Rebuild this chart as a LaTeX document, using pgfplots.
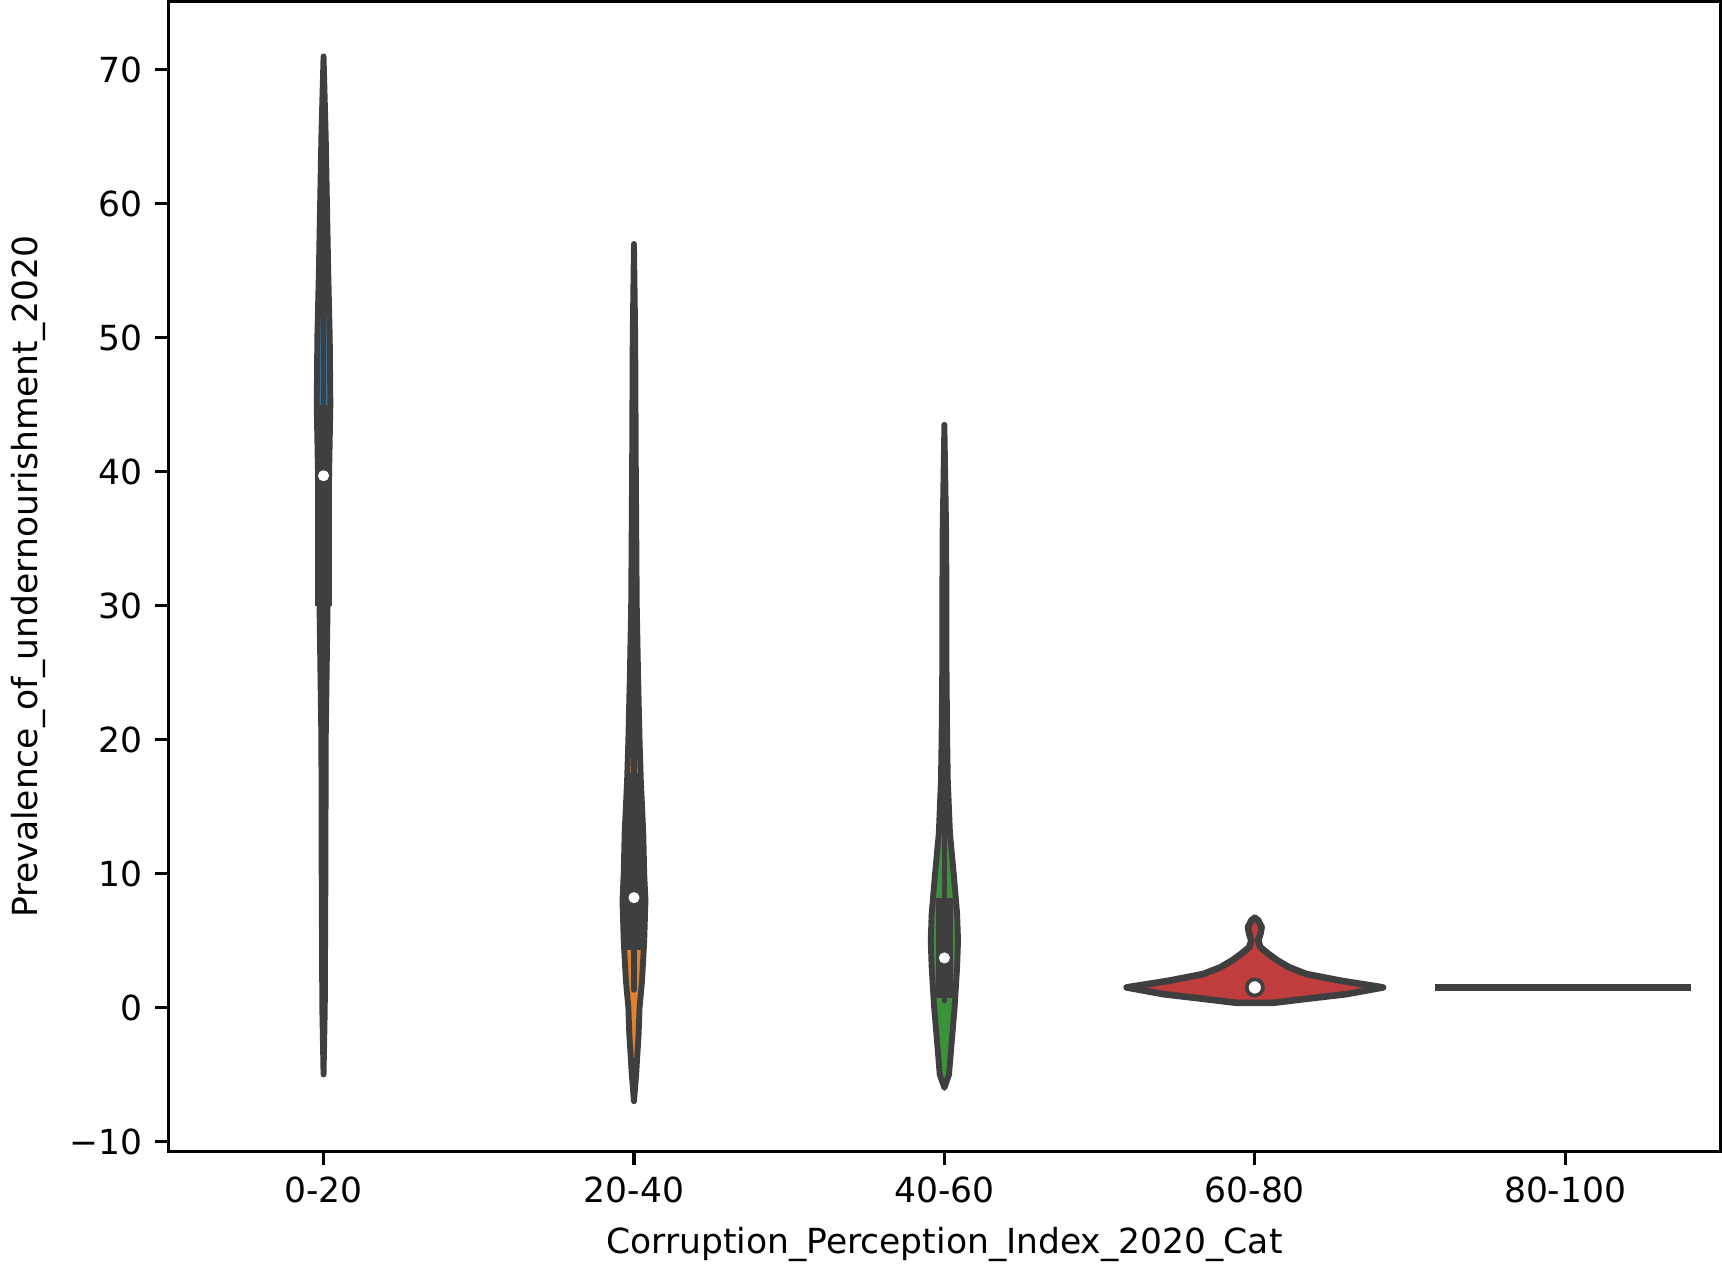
\documentclass[border=0pt]{standalone}
\usepackage{pgfplots}
\pgfplotsset{compat=1.18}
\usepackage{fontspec}
\setmainfont{DejaVu Sans}
\definecolor{vb}{HTML}{3274A1}
\definecolor{vo}{HTML}{E1812C}
\definecolor{vg}{HTML}{3A923A}
\definecolor{vr}{HTML}{C03D3E}
\definecolor{dk}{HTML}{3F3F3F}
\begin{document}
\fontsize{9.4}{11.3}\selectfont
\begin{tikzpicture}
\begin{axis}[
 scale only axis, width=14.85cm, height=11.0cm,
 xmin=-0.5, xmax=4.5, ymin=-10.73, ymax=75.1,
 xtick={0,1,2,3,4}, xticklabels={0-20,20-40,40-60,60-80,80-100},
 ytick={-10,0,10,20,30,40,50,60,70},
 yticklabels={−10,0,10,20,30,40,50,60,70},
 tick align=outside, tick pos=left, major tick length=3.7pt,
 tick style={black, line width=0.85pt},
 axis line style={line width=0.85pt},
 xlabel={Corruption\_Perception\_Index\_2020\_Cat},
 ylabel={Prevalence\_of\_undernourishment\_2020},
 label style={font=\fontsize{9.4}{11.3}\selectfont},
 tick label style={font=\fontsize{9.4}{11.3}\selectfont},
 every axis plot/.append style={line join=round, line cap=round},
]
% violin 0
\addplot[fill=vb, draw=dk, line width=1.6pt] coordinates {
(0,-5)(0.004,0)(0.006,10)(0.007,20)(0.013,30)(0.018,40)(0.022,45)(0.020,50)(0.015,55)(0.011,60)(0.007,65)(0,71)
(-0.007,65)(-0.011,60)(-0.015,55)(-0.020,50)(-0.022,45)(-0.018,40)(-0.013,30)(-0.007,20)(-0.006,10)(-0.004,0)} -- cycle;
% violin 1
\addplot[fill=vo, draw=dk, line width=1.6pt] coordinates {
(1,-7)(1.007,-5)(1.015,-2)(1.018,0)(1.026,2)(1.033,5)(1.037,8)(1.033,10)(1.030,13)(1.022,17)(1.018,20)(1.013,25)(1.009,30)(1.006,40)(1.004,50)(1,57)
(0.996,50)(0.994,40)(0.991,30)(0.987,25)(0.982,20)(0.978,17)(0.970,13)(0.967,10)(0.963,8)(0.967,5)(0.974,2)(0.982,0)(0.985,-2)(0.993,-5)} -- cycle;
% violin 2
\addplot[fill=vg, draw=dk, line width=1.6pt] coordinates {
(2,-6)(2.015,-5)(2.022,-3)(2.033,0)(2.041,3)(2.044,5)(2.041,7)(2.030,10)(2.018,13)(2.011,17)(2.009,20)(2.007,25)(2.006,35)(2,43.5)
(1.994,35)(1.993,25)(1.991,20)(1.989,17)(1.982,13)(1.970,10)(1.959,7)(1.956,5)(1.959,3)(1.967,0)(1.978,-3)(1.985,-5)} -- cycle;
% violin 3
\addplot[fill=vr, draw=dk, line width=1.8pt] coordinates {
(3.059,0.35)(3.148,0.6)(3.295,1.0)(3.413,1.5)(3.277,2.0)(3.166,2.5)(3.111,3.0)(3.074,3.5)(3.044,4.0)(3.018,4.5)(3.011,5.0)(3.018,5.5)(3.022,6.0)(3.011,6.5)(3,6.7)
(2.989,6.5)(2.978,6.0)(2.982,5.5)(2.989,5.0)(2.982,4.5)(2.956,4.0)(2.926,3.5)(2.889,3.0)(2.834,2.5)(2.723,2.0)(2.587,1.5)(2.705,1.0)(2.852,0.6)(2.941,0.35)} -- cycle;
% violin 4 (flat)
\addplot[draw=dk, line width=2pt, line cap=butt] coordinates {(3.58,1.5)(4.405,1.5)};
% whiskers
\addplot[draw=dk, line width=1.4pt] coordinates {(0,-4)(0,68)};
\addplot[draw=dk, line width=1.4pt] coordinates {(1,1.3)(1,37)};
\addplot[draw=dk, line width=1.4pt] coordinates {(2,0.5)(2,19)};
% boxes
\addplot[draw=dk, line width=4.8pt, line cap=butt] coordinates {(0,30)(0,45)};
\addplot[draw=dk, line width=4.8pt, line cap=butt] coordinates {(1,4.3)(1,17.5)};
\addplot[draw=dk, line width=4.8pt, line cap=butt] coordinates {(2,0.7)(2,8.2)};
\addplot[draw=dk, line width=4.8pt, line cap=butt] coordinates {(3,1.2)(3,1.8)};
% medians
\addplot[only marks, mark=*, mark size=1.3pt, mark options={fill=white, draw=white}] coordinates {(0,39.7)(1,8.2)(2,3.7)};
\addplot[only marks, mark=*, mark size=2.2pt, mark options={fill=white, draw=dk, line width=1pt}] coordinates {(3,1.5)};
\end{axis}
\end{tikzpicture}
\end{document}
